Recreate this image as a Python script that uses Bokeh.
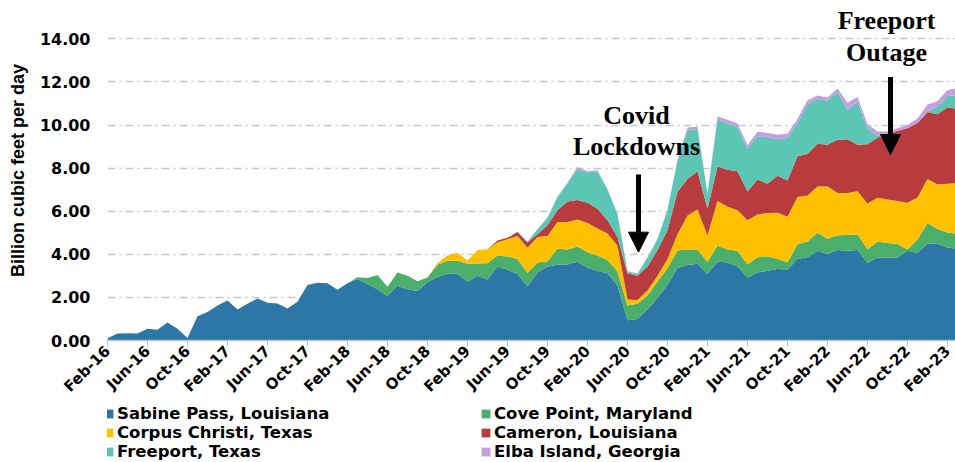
from math import pi
from bokeh.plotting import figure
from bokeh.layouts import column
from bokeh.models import (ColumnDataSource, FixedTicker, Legend, LegendItem, Label,
                          Arrow, NormalHead, Range1d, NumeralTickFormatter)
from bokeh.embed import file_html
from bokeh.resources import INLINE

# Monthly LNG exports, Feb-16 ... Mar-23 (Bcf/d)
sabine = [0.10, 0.32, 0.34, 0.32, 0.55, 0.50, 0.83, 0.55, 0.12, 1.12,
          1.32, 1.63, 1.86, 1.44, 1.70, 1.95, 1.75, 1.72, 1.48, 1.80,
          2.58, 2.68, 2.66, 2.36, 2.66, 2.85, 2.62, 2.38, 2.07, 2.54,
          2.38, 2.30, 2.72, 2.95, 3.10, 3.10, 2.73, 3.00, 2.83, 3.44,
          3.28, 3.09, 2.52, 3.16, 3.44, 3.52, 3.53, 3.65, 3.38, 3.22,
          3.12, 2.55, 0.94, 1.00, 1.44, 1.98, 2.60, 3.36, 3.50, 3.56,
          3.09, 3.67, 3.62, 3.44, 2.92, 3.16, 3.24, 3.32, 3.29, 3.78,
          3.86, 4.16, 4.01, 4.20, 4.17, 4.20, 3.60, 3.85, 3.85, 3.85,
          4.17, 4.06, 4.50, 4.48, 4.32, 4.25]
cove = [0] * 25 + [0.08, 0.28, 0.66, 0.43, 0.62, 0.62, 0.45, 0.20, 0.57, 0.60,
                   0.60, 0.83, 0.57, 0.75, 0.51, 0.62, 0.69, 0.61, 0.46, 0.24,
                   0.74, 0.69, 0.71, 0.72, 0.73, 0.62, 0.65, 0.69, 0.70, 0.65,
                   0.76, 0.76, 0.82, 0.72, 0.66, 0.56, 0.73, 0.60, 0.72, 0.61,
                   0.70, 0.67, 0.46, 0.34, 0.69, 0.74, 0.84, 0.71, 0.68, 0.73,
                   0.73, 0.64, 0.73, 0.68, 0.63, 0.05, 0.63, 0.94, 0.69, 0.69,
                   0.70]
corpus = [0] * 33 + [0.08, 0.25, 0.37, 0.14, 0.63, 0.66, 0.61, 0.80, 1.07, 1.17,
                     1.18, 1.17, 1.24, 1.28, 1.26, 1.35, 1.25, 1.23, 1.20, 0.27,
                     0.18, 0.23, 0.26, 0.42, 0.75, 1.58, 1.86, 1.22, 2.07, 1.99,
                     1.89, 2.05, 1.99, 2.01, 2.15, 2.11, 2.19, 2.13, 2.15, 2.44,
                     1.97, 1.95, 2.00, 2.12, 2.04, 2.01, 1.99, 2.17, 1.95, 2.05,
                     2.07, 2.27, 2.35]
cameron = [0] * 39 + [0.08, 0.07, 0.19, 0.25, 0.13, 0.50, 0.56, 0.95, 0.90, 0.94,
                      0.92, 0.61, 0.40, 1.22, 1.12, 1.12, 1.20, 1.34, 1.97, 1.70,
                      1.77, 1.25, 1.61, 1.72, 1.80, 1.33, 1.62, 1.36, 1.72, 1.69,
                      1.89, 1.93, 1.98, 1.92, 2.47, 2.49, 2.15, 2.75, 2.80, 3.00,
                      3.26, 3.46, 3.46, 3.12, 3.26, 3.54, 3.45]
freeport = [0] * 42 + [0.05, 0.23, 0.35, 0.59, 0.85, 1.43, 1.41, 1.73, 1.42, 1.05,
                       0.08, 0.09, 0.41, 0.50, 0.93, 1.45, 2.25, 1.98, 0.68, 2.18,
                       2.15, 2.03, 1.99, 2.01, 2.15, 1.69, 1.97, 1.53, 2.29, 2.09,
                       2.05, 2.23, 1.37, 1.99, 0.74, 0.08, 0.0, 0.0, 0.0, 0.0,
                       0.04, 0.35, 0.53, 0.65]
elba = [0] * 44 + [0.02, 0.03, 0.03, 0.10, 0.06, 0.05, 0.04, 0.03, 0.02, 0.02,
                   0.02, 0.02, 0.03, 0.05, 0.13, 0.09, 0.05, 0.14, 0.17, 0.19,
                   0.16, 0.21, 0.20, 0.21, 0.20, 0.20, 0.20, 0.15, 0.15, 0.15,
                   0.32, 0.23, 0.19, 0.20, 0.16, 0.12, 0.15, 0.20, 0.30, 0.25,
                   0.28, 0.32]

series_names = ["Sabine Pass, Louisiana", "Cove Point, Maryland", "Corpus Christi, Texas",
                "Cameron, Louisiana", "Freeport, Texas", "Elba Island, Georgia"]
colors = ["#2c77a5", "#4bae6a", "#ffc000", "#b83b3e", "#5cc6b5", "#c49ee0"]
tick_labels = ["Feb-16", "Jun-16", "Oct-16", "Feb-17", "Jun-17", "Oct-17", "Feb-18",
               "Jun-18", "Oct-18", "Feb-19", "Jun-19", "Oct-19", "Feb-20", "Jun-20",
               "Oct-20", "Feb-21", "Jun-21", "Oct-21", "Feb-22", "Jun-22", "Oct-22",
               "Feb-23"]
y_ticks = [0, 2, 4, 6, 8, 10, 12, 14]

keys = ["sabine", "cove", "corpus", "cameron", "freeport", "elba"]
src = ColumnDataSource(dict(x=list(range(len(sabine))), sabine=sabine, cove=cove,
                            corpus=corpus, cameron=cameron, freeport=freeport, elba=elba))

p = figure(width=955, height=404, output_backend="svg", toolbar_location=None,
           x_range=Range1d(0, 84.8), y_range=Range1d(0, 15.78),
           min_border_left=107, min_border_right=0, min_border_top=0, min_border_bottom=62)
p.outline_line_color = None
p.background_fill_color = "white"

rs = p.varea_stack(stackers=keys, x="x", color=colors, source=src)

# axes
x_ticks = [4 * i for i in range(len(tick_labels))]
p.xaxis.ticker = FixedTicker(ticks=x_ticks)
p.xaxis.major_label_overrides = {t: l for t, l in zip(x_ticks, tick_labels)}
p.xaxis.major_label_orientation = pi / 4
p.xaxis.major_label_text_font = "DejaVu Sans"
p.xaxis.major_label_text_font_style = "bold"
p.xaxis.major_label_text_font_size = "15px"
p.xaxis.major_label_text_color = "black"
p.xaxis.major_label_standoff = 2
p.xaxis.axis_line_color = "#b8c4d0"
p.xaxis.axis_line_width = 1.5
p.xaxis.major_tick_line_color = "#bfbfbf"
p.xaxis.major_tick_out = 6
p.xaxis.major_tick_in = 0
p.xaxis.minor_tick_line_color = None

p.yaxis.ticker = FixedTicker(ticks=y_ticks)
p.yaxis.formatter = NumeralTickFormatter(format="0.00")
p.yaxis.major_label_text_font = "DejaVu Sans"
p.yaxis.major_label_text_font_style = "bold"
p.yaxis.major_label_text_font_size = "16px"
p.yaxis.major_label_text_color = "black"
p.yaxis.major_label_standoff = 11
p.yaxis.axis_line_color = None
p.yaxis.major_tick_line_color = None
p.yaxis.minor_tick_line_color = None
p.yaxis.axis_label = "Billion cubic feet per day"
p.yaxis.axis_label_text_font = "Liberation Sans"
p.yaxis.axis_label_text_font_style = "bold"
p.yaxis.axis_label_text_font_size = "18px"
p.yaxis.axis_label_text_color = "black"
p.yaxis.axis_label_standoff = 9

p.xgrid.visible = False
p.ygrid.ticker = FixedTicker(ticks=y_ticks[1:])
p.ygrid.grid_line_color = "#c8c8c8"
p.ygrid.grid_line_dash = "8 4 2 4"
p.ygrid.grid_line_width = 1.5

# annotations
for txt, xx, yy in [("Covid", 52.9, 10.46), ("Lockdowns", 52.9, 8.99),
                    ("Freeport", 77.9, 14.86), ("Outage", 77.9, 13.38)]:
    p.add_layout(Label(x=xx, y=yy, text=txt, text_font="Liberation Serif",
                       text_font_style="bold", text_font_size="26px",
                       text_align="center", text_baseline="middle", text_color="black"))

for xs, y0, y1 in [(53.1, 7.7, 4.1), (78.3, 12.23, 8.63)]:
    p.add_layout(Arrow(end=NormalHead(size=20, fill_color="black", line_color="black"),
                       x_start=xs, y_start=y0, x_end=xs, y_end=y1,
                       line_width=5, line_color="black"))

# legend strip under the chart (same stacked areas, kept outside its visible range)
lg = figure(width=955, height=58, output_backend="svg", toolbar_location=None,
            x_range=Range1d(0, 84.8), y_range=Range1d(-2, -1),
            x_axis_location=None, y_axis_location=None,
            min_border_left=0, min_border_right=0, min_border_top=0, min_border_bottom=0)
lg.outline_line_color = None
lg.xgrid.visible = False
lg.ygrid.visible = False
lrs = lg.varea_stack(stackers=keys, x="x", color=colors, source=src)
items = [LegendItem(label=n, renderers=[r]) for n, r in zip(series_names, lrs)]
legend = Legend(items=items, location=(-4, 1), orientation="horizontal", ncols=2,
                glyph_width=11, glyph_height=11, label_standoff=3, label_width=363,
                label_height=19, spacing=0, padding=0, margin=0,
                border_line_color=None, background_fill_alpha=0,
                label_text_font="DejaVu Sans", label_text_font_style="bold",
                label_text_font_size="16.5px", label_text_color="black")
lg.add_layout(legend, "center")

open("out.html", "w").write(file_html(column(p, lg, spacing=0), INLINE))
